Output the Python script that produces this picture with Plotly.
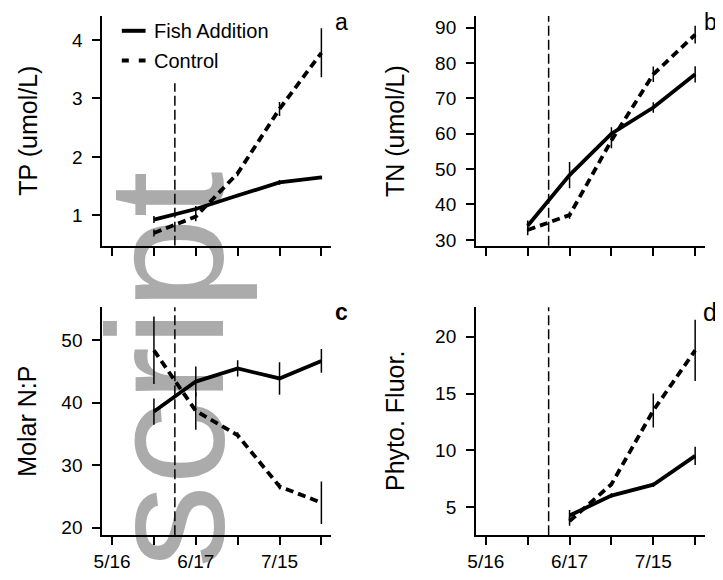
import plotly.graph_objects as go

# page body has an 8px default margin: lay out in reference pixels, shift by OFF
OFF = 8
DX = -3   # small horizontal nudge
W, H = 723 - OFF, 580 - 2 * OFF
FONT = "Liberation Sans, Arial, sans-serif"

# ---------------- data ----------------
x_tickvals = [0, 1, 2, 3, 4, 5]
x_ticktext = ["5/16", "", "6/17", "", "7/15", ""]
treatment_x = 1.5          # fish addition date (dashed vertical line)

sample_x = [1, 2, 3, 4, 5]
fluor_x = [2, 3, 4, 5]

tp_fish = [0.93, 1.11, 1.34, 1.565, 1.65]
tp_fish_err = [0.06, 0.05, 0.03, 0.04, 0.03]
tp_ctrl = [0.70, 0.98, 1.72, 2.82, 3.78]
tp_ctrl_err = [0.06, 0.08, 0.05, 0.12, 0.42]

tn_fish = [34.0, 48.3, 60.0, 67.4, 76.8]
tn_fish_err = [1.5, 3.7, 1.8, 1.5, 2.3]
tn_ctrl = [32.8, 37.0, 58.1, 76.8, 88.0]
tn_ctrl_err = [1.5, 1.0, 2.2, 2.2, 2.5]

np_fish = [38.6, 43.4, 45.5, 43.9, 46.7]
np_fish_err = [2.1, 2.4, 1.3, 2.6, 1.9]
np_ctrl = [48.4, 38.7, 34.8, 26.6, 24.0]
np_ctrl_err = [5.4, 3.0, 0.5, 0.5, 3.4]

fl_fish = [4.24, 6.0, 6.96, 9.5]
fl_fish_err = [0.5, 0.2, 0.2, 0.8]
fl_ctrl = [3.75, 7.0, 13.5, 18.8]
fl_ctrl_err = [0.4, 0.2, 1.5, 2.7]

panels = [
    dict(key="", x=sample_x, fish=tp_fish, fe=tp_fish_err, ctrl=tp_ctrl, ce=tp_ctrl_err,
         yrange=[0.48, 4.41], yticks=[1, 2, 3, 4], title="TP (umol/L)", letter="a",
         labels=False, vline_top=3.26),
    dict(key="2", x=sample_x, fish=tn_fish, fe=tn_fish_err, ctrl=tn_ctrl, ce=tn_ctrl_err,
         yrange=[28.3, 93.3], yticks=[30, 40, 50, 60, 70, 80, 90], title="TN (umol/L)", letter="b",
         labels=False, vline_top=None),
    dict(key="3", x=sample_x, fish=np_fish, fe=np_fish_err, ctrl=np_ctrl, ce=np_ctrl_err,
         yrange=[18.78, 55.29], yticks=[20, 30, 40, 50], title="Molar N:P", letter="c",
         labels=True, vline_top=None),
    dict(key="4", x=fluor_x, fish=fl_fish, fe=fl_fish_err, ctrl=fl_ctrl, ce=fl_ctrl_err,
         yrange=[2.5, 22.6], yticks=[5, 10, 15, 20], title="Phyto. Fluor.", letter="d",
         labels=True, vline_top=None),
]

# pixel layout in reference coordinates (left, right, top, bottom)
boxes = [(98, 330, 16, 248), (476, 708, 16, 248), (98, 330, 310, 540), (476, 708, 310, 540)]
title_x = [23, 394.5, 22.5, 395]
letter_pos = [(340.5, 22.5, 23, False), (713, 22.5, 23, False), (340, 315, 23, True), (713, 315, 25, False)]

def px(x):
    return (x - OFF + DX) / W

def py(y):
    return 1 - (y - OFF) / H

fig = go.Figure()
shapes = []
annotations = []
layout = {}

for p, (l, r, t, b), tx, (lx, ly, ls, lb) in zip(panels, boxes, title_x, letter_pos):
    k = p["key"]
    xa, ya = "x" + k, "y" + k
    fig.add_trace(go.Scatter(
        x=p["x"], y=p["fish"], xaxis=xa, yaxis=ya, mode="lines",
        line=dict(color="black", width=3.8),
        error_y=dict(type="data", array=p["fe"], color="black", thickness=1.5, width=0),
        showlegend=False, name="Fish Addition"))
    fig.add_trace(go.Scatter(
        x=p["x"], y=p["ctrl"], xaxis=xa, yaxis=ya, mode="lines",
        line=dict(color="black", width=3.8, dash="8px,5px"),
        error_y=dict(type="data", array=p["ce"], color="black", thickness=1.5, width=0),
        showlegend=False, name="Control"))
    axis_common = dict(showline=True, linecolor="black", linewidth=1.5, ticks="outside",
                       ticklen=8, tickwidth=1.5, tickcolor="black", showgrid=False,
                       zeroline=False, tickfont=dict(family=FONT, size=19, color="black"))
    layout["xaxis" + k] = dict(axis_common, domain=[px(l), px(r)], anchor=ya,
                               range=[-0.24, 5.24], tickmode="array", tickvals=x_tickvals,
                               ticktext=x_ticktext if p["labels"] else [""] * 6)
    layout["yaxis" + k] = dict(axis_common, domain=[py(b), py(t)], anchor=xa,
                               range=p["yrange"], tickmode="array", tickvals=p["yticks"],
                               ticklabelstandoff=6)
    # treatment line
    if p["vline_top"] is None:
        shapes.append(dict(type="line", xref=xa, yref=ya + " domain", x0=treatment_x, x1=treatment_x,
                           y0=0, y1=1, line=dict(color="black", width=1.5, dash="10px,4px")))
    else:
        shapes.append(dict(type="line", xref=xa, yref=ya, x0=treatment_x, x1=treatment_x,
                           y0=p["yrange"][0], y1=p["vline_top"],
                           line=dict(color="black", width=1.5, dash="10px,4px")))
    annotations.append(dict(text=p["title"], xref="paper", yref="paper", x=px(tx), y=py((t + b) / 2),
                            xanchor="center", yanchor="middle", textangle=-90, showarrow=False,
                            font=dict(family=FONT, size=25, color="black")))
    annotations.append(dict(text=("<b>%s</b>" % p["letter"]) if lb else p["letter"],
                            xref="paper", yref="paper", x=px(lx), y=py(ly),
                            xanchor="center", yanchor="middle", showarrow=False,
                            font=dict(family=FONT, size=ls, color="black")))

# legend (manual)
shapes.append(dict(type="line", xref="paper", yref="paper", x0=px(118), x1=px(142), y0=py(31), y1=py(31),
                   line=dict(color="black", width=4)))
shapes.append(dict(type="line", xref="paper", yref="paper", x0=px(118), x1=px(142), y0=py(61), y1=py(61),
                   line=dict(color="black", width=4, dash="7px,10px")))
annotations.append(dict(text="Fish Addition", xref="paper", yref="paper", x=px(149), y=py(31),
                        xanchor="left", yanchor="middle", showarrow=False,
                        font=dict(family=FONT, size=20, color="black")))
annotations.append(dict(text="Control", xref="paper", yref="paper", x=px(149), y=py(61),
                        xanchor="left", yanchor="middle", showarrow=False,
                        font=dict(family=FONT, size=20, color="black")))

# watermark
wm_cx, wm_cy = 146, 373
shapes.append(dict(type="rect", xref="paper", yref="paper", layer="below",
                   x0=px(wm_cx - 60), x1=px(wm_cx + 60), y0=py(wm_cy + 190), y1=py(wm_cy - 190),
                   line=dict(width=0), fillcolor="rgba(0,0,0,0)",
                   label=dict(text="script", textangle=-90, textposition="middle center",
                              font=dict(family=FONT, size=166, color="#ababab"))))

fig.update_layout(**layout)
fig.update_layout(width=W, height=H, autosize=False, margin=dict(l=0, r=0, t=0, b=0),
                  paper_bgcolor="white", plot_bgcolor="rgba(0,0,0,0)",
                  shapes=shapes, annotations=annotations, showlegend=False)

fig.write_html("out.html")
